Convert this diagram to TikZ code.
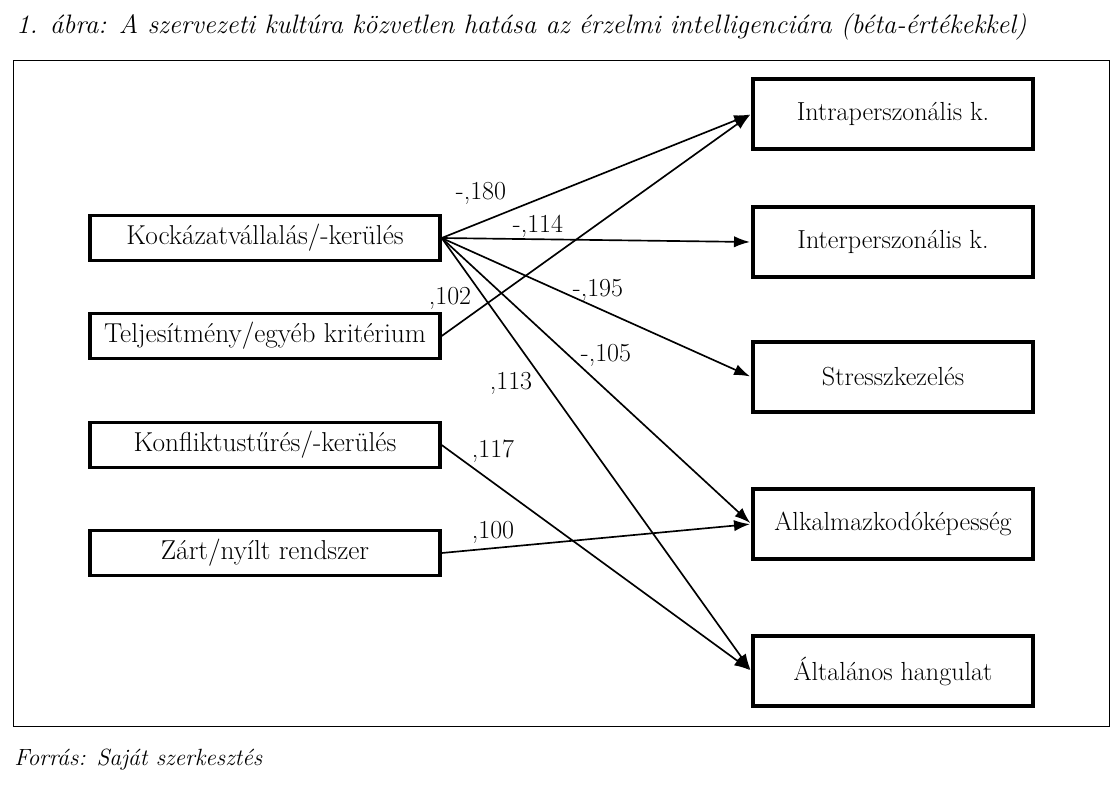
\documentclass[tikz,border=0pt]{standalone}
\usepackage{fontspec}
\usepackage{tikz}
\usetikzlibrary{arrows.meta}

\begin{document}
\begin{tikzpicture}[x=0.75pt,y=-0.75pt,
  box/.style={draw,line width=2.5pt,minimum height=34pt,inner sep=0pt,font=\fontsize{20.5}{24}\selectfont},
  lbox/.style={box,minimum width=262.5pt},
  rbox/.style={box,minimum width=210pt,minimum height=52.5pt,font=\fontsize{19.6}{24}\selectfont},
  lbl/.style={anchor=base,inner sep=0pt,font=\fontsize{19.5}{24}\selectfont},
  arr/.style={-{Latex[length=12pt,width=8.5pt]},line width=1.25pt,shorten >=1pt}]

\useasboundingbox (0,0) rectangle (1119,786);

\node [anchor=base west,inner sep=0pt,font=\fontsize{20}{24}\selectfont\itshape] (title) at (16,33)
  {1. ábra: A szervezeti kultúra közvetlen hatása az érzelmi intelligenciára (béta-értékekkel)};
\node [draw,line width=1.1pt,anchor=north west,minimum width=822pt,minimum height=499.5pt] (frame) at (13,60) {};
\node [anchor=base west,inner sep=0pt,font=\fontsize{17.6}{22}\selectfont\itshape] (src) at (14,765)
  {Forrás: Saját szerkesztés};

% independent variables
\node [lbox] (kock) at (265,238) {Kockázatvállalás/-kerülés};
\node [lbox] (telj) at (265,336) {Teljesítmény/egyéb kritérium};
\node [lbox] (konf) at (265,445) {Konfliktustűrés/-kerülés};
\node [lbox] (zart) at (265,553) {Zárt/nyílt rendszer};

% dependent variables
\node [rbox] (intra) at (893,114) {Intraperszonális k.};
\node [rbox] (inter) at (893,242) {Interperszonális k.};
\node [rbox] (stressz) at (893,377) {Stresszkezelés};
\node [rbox] (alk) at (893,524) {Alkalmazkodóképesség};
\node [rbox] (alt) at (893,671) {Általános hangulat};

\draw [arr] (kock.east) -- (intra.west);
\draw [arr] (telj.east) -- (intra.west);
\draw [arr] (kock.east) -- (inter.west);
\draw [arr] (kock.east) -- (stressz.west);
\draw [arr] (kock.east) -- (alk.west);
\draw [arr] (kock.east) -- (alt.west);
\draw [arr] (konf.east) -- (alt.west);
\draw [arr] (zart.east) -- (alk.west);

\node [lbl] (b1) at (481,199) {-,180};
\node [lbl] (b2) at (538,232) {-,114};
\node [lbl] (b3) at (450,304) {,102};
\node [lbl] (b4) at (598,296) {-,195};
\node [lbl] (b5) at (606,361) {-,105};
\node [lbl] (b6) at (511,389) {,113};
\node [lbl] (b7) at (493,457) {,117};
\node [lbl] (b8) at (493,538) {,100};
\end{tikzpicture}
\end{document}
